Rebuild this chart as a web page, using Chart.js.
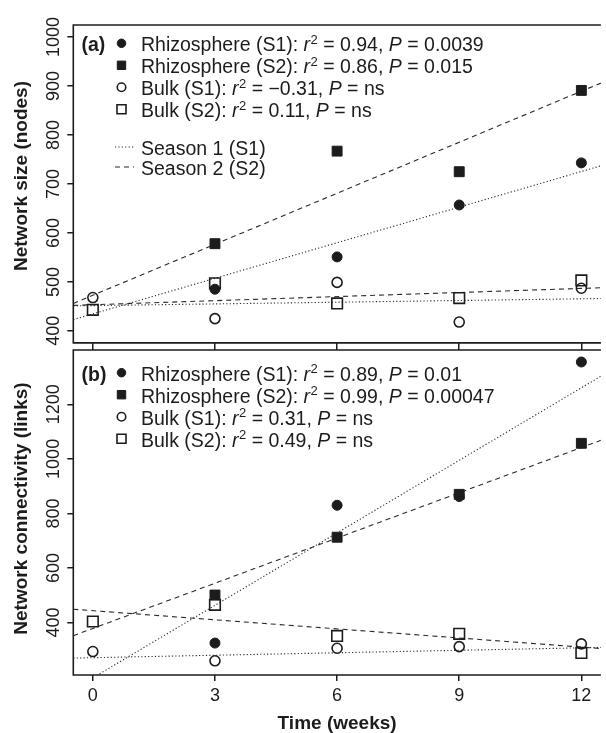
<!DOCTYPE html>
<html>
<head>
<meta charset="utf-8">
<script src="https://cdn.jsdelivr.net/npm/chart.js@4.4.1/dist/chart.umd.min.js"></script>
<style>
html,body{margin:0;padding:0;background:#fff;overflow:hidden;}
#wrap{position:relative;width:606px;height:733px;overflow:hidden;background:#fff;}
canvas{position:absolute;left:0;}
#cA{top:0;}
#cB{top:340px;}
</style>
</head>
<body>
<div id="wrap">
<canvas id="cA" width="610" height="352"></canvas>
<canvas id="cB" width="610" height="395"></canvas>
</div>
<script>
// ---------- data ----------
const weeks = [0, 3, 6, 9, 12];          // bulk soil sampling times
const rhizoWeeks = [3, 6, 9, 12];        // rhizosphere sampling times
const weekTicks = [0, 3, 6, 9, 12];
const xRange = [-0.48, 12.48];

// Panel (a): network size (nodes)
const sizeRhizoS1 = [485, 551, 657, 743];
const sizeRhizoS2 = [578, 767, 725, 891];
const sizeBulkS1  = [468, 425, 499, 418, 487];
const sizeBulkS2  = [443, 497, 456, 467, 503];
const sizeTicks   = [400, 500, 600, 700, 800, 900, 1000];
const sizeRange   = [375.4, 1024.6];

// Panel (b): network connectivity (links)
const connRhizoS1 = [325, 830, 862, 1355];
const connRhizoS2 = [501, 713, 870, 1057];
const connBulkS1  = [294, 260, 306, 312, 322];
const connBulkS2  = [404, 465, 351, 359, 289];
const connTicks   = [400, 600, 800, 1000, 1200];
const connRange   = [208, 1399];

// Regression lines: values at the left and right edges of the plot (x = xRange)
const fitX = [-0.48, 12.48];
const sizeFitRhizoS1 = [423, 737];
const sizeFitRhizoS2 = [456, 906];
const sizeFitBulkS1  = [451, 466];
const sizeFitBulkS2  = [452, 488];
const connFitRhizoS1 = [155, 1303];
const connFitRhizoS2 = [352, 1068];
const connFitBulkS1  = [270, 309];
const connFitBulkS2  = [449, 305];

// Legend texts: [name, r2, P]
const legendA = [
  ['Rhizosphere (S1)', '0.94', '0.0039'],
  ['Rhizosphere (S2)', '0.86', '0.015'],
  ['Bulk (S1)', '\u22120.31', 'ns'],
  ['Bulk (S2)', '0.11', 'ns']
];
const legendB = [
  ['Rhizosphere (S1)', '0.89', '0.01'],
  ['Rhizosphere (S2)', '0.99', '0.00047'],
  ['Bulk (S1)', '0.31', 'ns'],
  ['Bulk (S2)', '0.49', 'ns']
];
const seasonLabels = ['Season 1 (S1)', 'Season 2 (S2)'];
const panelLabels = ['(a)', '(b)'];
const yTitles = ['Network size (nodes)', 'Network connectivity (links)'];
const xTitle = 'Time (weeks)';

// ---------- styling ----------
const FF = "'Liberation Sans', Arial, Helvetica, sans-serif";
const INK = '#1c1c1c';
const LINE = '#2a2a2a';
const DOT = [1.2, 2.2];
const DASH = [5, 4];
const markers = [
  {pointStyle: 'circle', radius: 5,   fill: INK,               bw: 1},
  {pointStyle: 'rect',   radius: 7,   fill: INK,               bw: 1},
  {pointStyle: 'circle', radius: 5,   fill: 'rgba(0,0,0,0)',   bw: 1.6},
  {pointStyle: 'rect',   radius: 7.5, fill: 'rgba(0,0,0,0)',   bw: 1.6}
];

const xy = (xs, ys) => xs.map((x, i) => ({x: x, y: ys[i]}));

function pointSet(label, xs, ys, m) {
  return {label, data: xy(xs, ys), showLine: false, pointStyle: m.pointStyle,
    pointRadius: m.radius, pointHoverRadius: m.radius, pointBackgroundColor: m.fill,
    pointBorderColor: INK, pointBorderWidth: m.bw, order: 0};
}
function lineSet(label, ys, dash) {
  return {label, data: xy(fitX, ys), showLine: true, pointRadius: 0, borderColor: LINE,
    borderWidth: 1.1, borderDash: dash, fill: false, order: 1};
}

function drawRich(ctx, x, y, row) {
  const parts = [
    {t: row[0] + ': ', s: 'n'}, {t: 'r', s: 'i'}, {t: '2', s: 'sup'},
    {t: ' = ' + row[1] + ', ', s: 'n'}, {t: 'P', s: 'i'}, {t: ' = ' + row[2], s: 'n'}
  ];
  let cx = x;
  ctx.textAlign = 'left';
  ctx.textBaseline = 'alphabetic';
  for (const p of parts) {
    if (p.s === 'sup') {
      ctx.font = '13px ' + FF;
      ctx.fillText(p.t, cx + 0.5, y - 7.5);
      cx += ctx.measureText(p.t).width + 0.5;
    } else {
      ctx.font = (p.s === 'i' ? 'italic ' : '') + '19.5px ' + FF;
      ctx.fillText(p.t, cx, y);
      cx += ctx.measureText(p.t).width;
    }
  }
}

function legendPlugin(rows, baselines, panelLabel, seasons) {
  return {
    id: 'richLegend',
    afterDatasetsDraw(chart) {
      const ctx = chart.ctx;
      ctx.save();
      ctx.fillStyle = INK;
      ctx.font = 'bold 19.5px ' + FF;
      ctx.textBaseline = 'alphabetic';
      ctx.fillText(panelLabel, 81.5, baselines[0]);
      rows.forEach((row, i) => {
        const m = markers[i];
        ctx.fillStyle = m.fill;
        ctx.strokeStyle = INK;
        ctx.lineWidth = m.bw;
        Chart.helpers.drawPoint(ctx, {pointStyle: m.pointStyle, radius: m.radius * 0.85,
          borderWidth: m.bw, rotation: 0}, 121.5, baselines[i] - 8);
        ctx.fillStyle = INK;
        drawRich(ctx, 141, baselines[i], row);
      });
      if (seasons) {
        const dashes = [DOT, DASH];
        seasons.forEach((s, i) => {
          const yb = 155 + i * 20;
          ctx.strokeStyle = LINE;
          ctx.lineWidth = 1.1;
          ctx.setLineDash(dashes[i]);
          ctx.beginPath();
          ctx.moveTo(115, yb - 8);
          ctx.lineTo(134, yb - 8);
          ctx.stroke();
          ctx.setLineDash([]);
          ctx.fillStyle = INK;
          ctx.font = '19.5px ' + FF;
          ctx.fillText(s, 141, yb);
        });
      }
      ctx.restore();
    }
  };
}

// frame (top, left, bottom; the right side lies beyond the cropped figure edge)
// and the rotated y-axis title
function framePlugin(title, titleY) {
  return {
    id: 'frame',
    afterDraw(chart) {
      const a = chart.chartArea, ctx = chart.ctx;
      ctx.save();
      ctx.strokeStyle = INK;
      ctx.lineWidth = 1.6;
      ctx.beginPath();
      ctx.moveTo(a.right, a.top);
      ctx.lineTo(a.left, a.top);
      ctx.lineTo(a.left, a.bottom);
      ctx.lineTo(a.right, a.bottom);
      ctx.stroke();
      ctx.translate(21.5, titleY);
      ctx.rotate(-Math.PI / 2);
      ctx.fillStyle = INK;
      ctx.font = 'bold 19px ' + FF;
      ctx.textAlign = 'center';
      ctx.textBaseline = 'middle';
      ctx.fillText(title, 0, 0);
      ctx.restore();
    }
  };
}

function yScale(range, ticks) {
  return {
    type: 'linear', position: 'left', min: range[0], max: range[1],
    afterBuildTicks: s => { s.ticks = ticks.map(v => ({value: v})); },
    afterFit: s => { s.width = 73.3; },
    ticks: {minRotation: 90, maxRotation: 90, crossAlign: 'center', padding: -6.5,
      font: {family: FF, size: 18}, color: INK, callback: v => String(v)},
    grid: {drawOnChartArea: false, drawTicks: true, tickLength: 6, color: INK, lineWidth: 1.5},
    border: {display: false}
  };
}

const common = {
  responsive: false, animation: false, devicePixelRatio: 1,
  plugins: {legend: {display: false}, tooltip: {enabled: false}}
};

// ---------- Panel (a) ----------
new Chart(document.getElementById('cA'), {
  type: 'scatter',
  data: {datasets: [
    pointSet('Rhizosphere (S1)', rhizoWeeks, sizeRhizoS1, markers[0]),
    pointSet('Rhizosphere (S2)', rhizoWeeks, sizeRhizoS2, markers[1]),
    pointSet('Bulk (S1)', weeks, sizeBulkS1, markers[2]),
    pointSet('Bulk (S2)', weeks, sizeBulkS2, markers[3]),
    lineSet('Fit Rhizosphere (S1)', sizeFitRhizoS1, DOT),
    lineSet('Fit Rhizosphere (S2)', sizeFitRhizoS2, DASH),
    lineSet('Fit Bulk (S1)', sizeFitBulkS1, DOT),
    lineSet('Fit Bulk (S2)', sizeFitBulkS2, DASH)
  ]},
  options: Object.assign({}, common, {
    layout: {padding: {top: 25, bottom: 2, left: 0, right: 1.5}},
    scales: {
      x: {type: 'linear', min: xRange[0], max: xRange[1], display: false},
      y: yScale(sizeRange, sizeTicks)
    }
  }),
  plugins: [framePlugin(yTitles[0], 176),
    legendPlugin(legendA, [51.3, 73.3, 95.3, 117.3], panelLabels[0], seasonLabels)]
});

// ---------- Panel (b) ----------
new Chart(document.getElementById('cB'), {
  type: 'scatter',
  data: {datasets: [
    pointSet('Rhizosphere (S1)', rhizoWeeks, connRhizoS1, markers[0]),
    pointSet('Rhizosphere (S2)', rhizoWeeks, connRhizoS2, markers[1]),
    pointSet('Bulk (S1)', weeks, connBulkS1, markers[2]),
    pointSet('Bulk (S2)', weeks, connBulkS2, markers[3]),
    lineSet('Fit Rhizosphere (S1)', connFitRhizoS1, DOT),
    lineSet('Fit Rhizosphere (S2)', connFitRhizoS2, DASH),
    lineSet('Fit Bulk (S1)', connFitBulkS1, DOT),
    lineSet('Fit Bulk (S2)', connFitBulkS2, DASH)
  ]},
  options: Object.assign({}, common, {
    layout: {padding: {top: 0, bottom: 0, left: 0, right: 1.5}},
    scales: {
      x: {type: 'linear', position: 'bottom', min: xRange[0], max: xRange[1],
        afterBuildTicks: s => { s.ticks = weekTicks.map(v => ({value: v})); },
        afterFit: s => { s.height = 60; },
        ticks: {font: {family: FF, size: 18}, color: INK, padding: 4, minRotation: 0, maxRotation: 0,
          callback: v => String(v)},
        grid: {drawOnChartArea: false, tickLength: 6, color: INK, lineWidth: 1.5},
        border: {display: false},
        title: {display: true, text: xTitle, color: INK,
          font: {family: FF, size: 19, weight: 'bold'}, padding: {top: 0, bottom: 0}}
      },
      x2: {type: 'linear', position: 'top', min: xRange[0], max: xRange[1],
        afterBuildTicks: s => { s.ticks = weekTicks.map(v => ({value: v})); },
        afterFit: s => { s.height = 10; },
        ticks: {display: false},
        grid: {drawOnChartArea: false, tickLength: 7, color: INK, lineWidth: 1.5},
        border: {display: false}
      },
      y: yScale(connRange, connTicks)
    }
  }),
  plugins: [framePlugin(yTitles[1], 168.5),
    legendPlugin(legendB, [40.7, 62.7, 84.7, 106.7], panelLabels[1], null)]
});
</script>
</body>
</html>
